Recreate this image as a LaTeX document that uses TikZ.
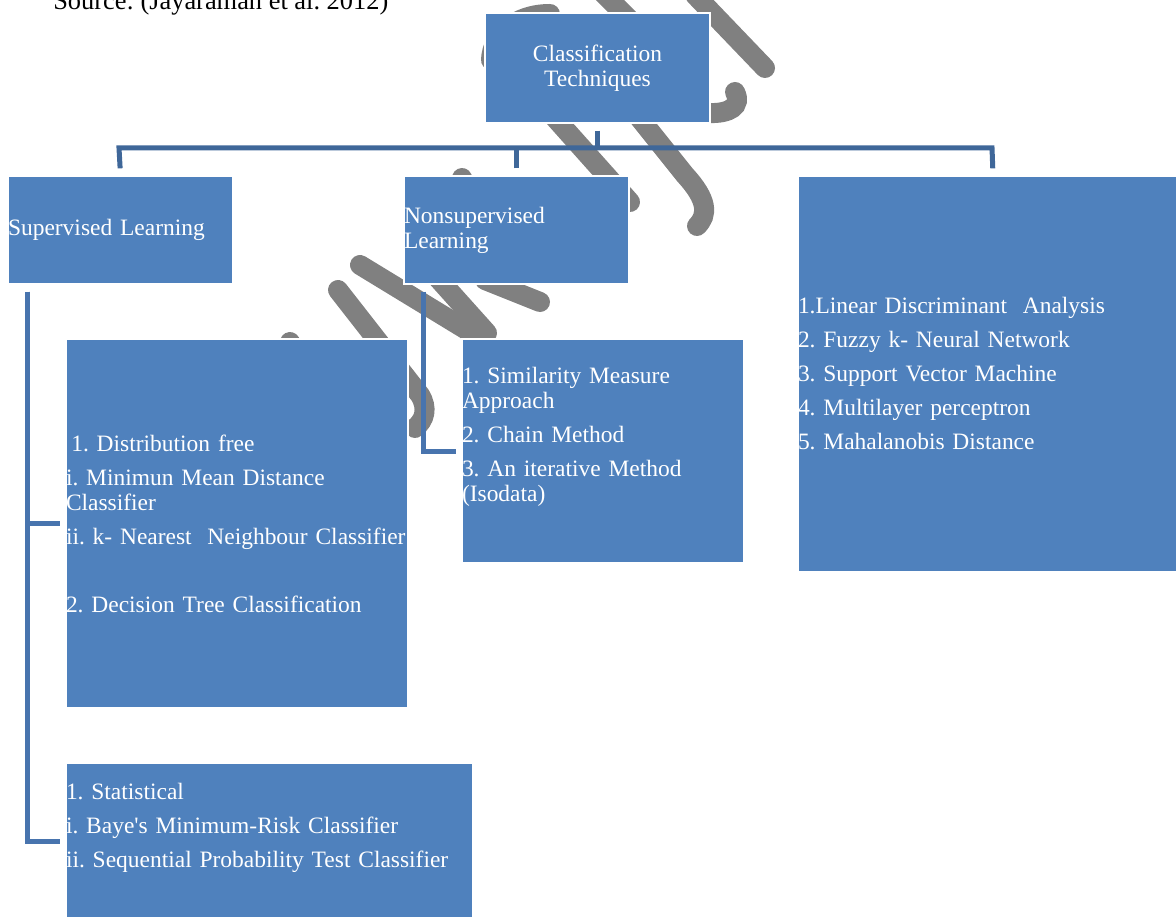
\documentclass[tikz,border=0pt]{standalone}
\usepackage{fontspec}
\setmainfont{Liberation Serif}
\definecolor{boxblue}{HTML}{4F81BD}
\definecolor{treeblue}{HTML}{3F6799}
\definecolor{sideblue}{HTML}{4874AE}
\definecolor{markgray}{HTML}{808080}
\begin{document}
\begin{tikzpicture}[x=0.75pt,y=-0.75pt,
	blockbox/.style={anchor=north west,fill=boxblue,draw=white,line width=1.5pt,text=white,inner sep=0pt,align=left,font=\fontsize{17.6pt}{18.75pt}\selectfont\frenchspacing},
	tree/.style={draw=treeblue,line width=3.75pt},
	side/.style={draw=sideblue,line width=3.75pt},
	wmline/.style={draw=markgray,line width=15pt,line cap=round}]
	\useasboundingbox (0,0) rectangle (1176,916);

		\draw[wmline] (695,-5) -- (765,68);
		\draw[wmline] (585,-25) -- (630,20);
		\draw[wmline] (550,14) .. controls (515,14) and (492,35) .. (491,60);
		\draw[wmline] (735,92) .. controls (742,106) and (730,114) .. (708,113);
		\draw[wmline] (555,118) -- (630,202);
		\draw[wmline] (625,100) -- (685,175) .. controls (708,200) and (708,215) .. (697,226);
		\draw[wmline] (360,265) -- (470,332);
		\draw[wmline] (435,275) -- (487,333);
		\draw[wmline] (485,280) -- (540,302);
		\draw[wmline] (338,290) -- (420,395) .. controls (428,408) and (425,420) .. (415,428);
		\draw[wmline] (290,342) -- (300,360);
		\draw[wmline] (462,178) -- (470,195);

		\node[anchor=base west,inner sep=0pt,font=\fontsize{19.8pt}{22pt}\selectfont\frenchspacing] (src) at (53,10) {Source: (Jayaraman et al. 2012)};

		\node[blockbox,align=center,text width=168.75pt,minimum height=82.5pt] (root) at (484,12) {Classification\\Techniques};
		\node[blockbox,text width=168.75pt,minimum height=81pt] (sup) at (7,175) {Supervised Learning};
		\node[blockbox,text width=168.75pt,minimum height=81pt] (nonsup) at (403,175) {Nonsupervised\\Learning};
		\node[blockbox,text width=292.5pt,minimum height=297pt] (rb) at (797,175) {1.Linear Discriminant\ \ Analysis\\[6.75pt]2. Fuzzy k- Neural Network\\[6.75pt]3. Support Vector Machine\\[6.75pt]4. Multilayer perceptron\\[6.75pt]5. Mahalanobis Distance};
		\node[blockbox,text width=256.5pt,minimum height=276.75pt] (dist) at (65,338) {\hspace*{4pt}1. Distribution free\\[6.75pt]i. Minimun Mean Distance\\Classifier\\[6.75pt]\mbox{ii. k- Nearest\ \ Neighbour Classifier}\\[6.75pt]\mbox{}\\[6.75pt]2. Decision Tree Classification};
		\node[blockbox,text width=211.5pt,minimum height=168pt] (sim) at (461,338) {1. Similarity Measure\\Approach\\[6.75pt]2. Chain Method\\[6.75pt]3. An iterative Method\\(Isodata)\\[6.75pt]\mbox{}};
		\node[blockbox,text width=305.25pt,minimum height=117pt] (stat) at (65,762) {1. Statistical\\[6.75pt]i. Baye\textquotesingle s Minimum-Risk Classifier\\[6.75pt]\mbox{ii. Sequential Probability Test Classifier}\\[5pt]\mbox{}};

		\coordinate (busL) at (119,148);
		\coordinate (busR) at (992,148);
		\coordinate (supdrop) at ([xshift=15pt]sup.south west);
		\coordinate (nondrop) at ([xshift=15pt]nonsup.south west);

		\draw[tree,shorten <=5pt] (root.south) -- (root.south |- busL);
		\draw[tree,shorten <=5pt,shorten >=5pt] (sup.north) -- (busL) -- (busR) -- (rb.north);
		\draw[tree,shorten <=5pt] (nonsup.north) -- (nonsup.north |- busL);

		\draw[side,shorten <=5pt,shorten >=4pt] (supdrop) |- (dist.west);
		\draw[side,shorten <=5pt,shorten >=4pt] (supdrop) |- (stat.west);
		\draw[side,shorten <=5pt,shorten >=4pt] (nondrop) |- (sim.west);
\end{tikzpicture}
\end{document}
